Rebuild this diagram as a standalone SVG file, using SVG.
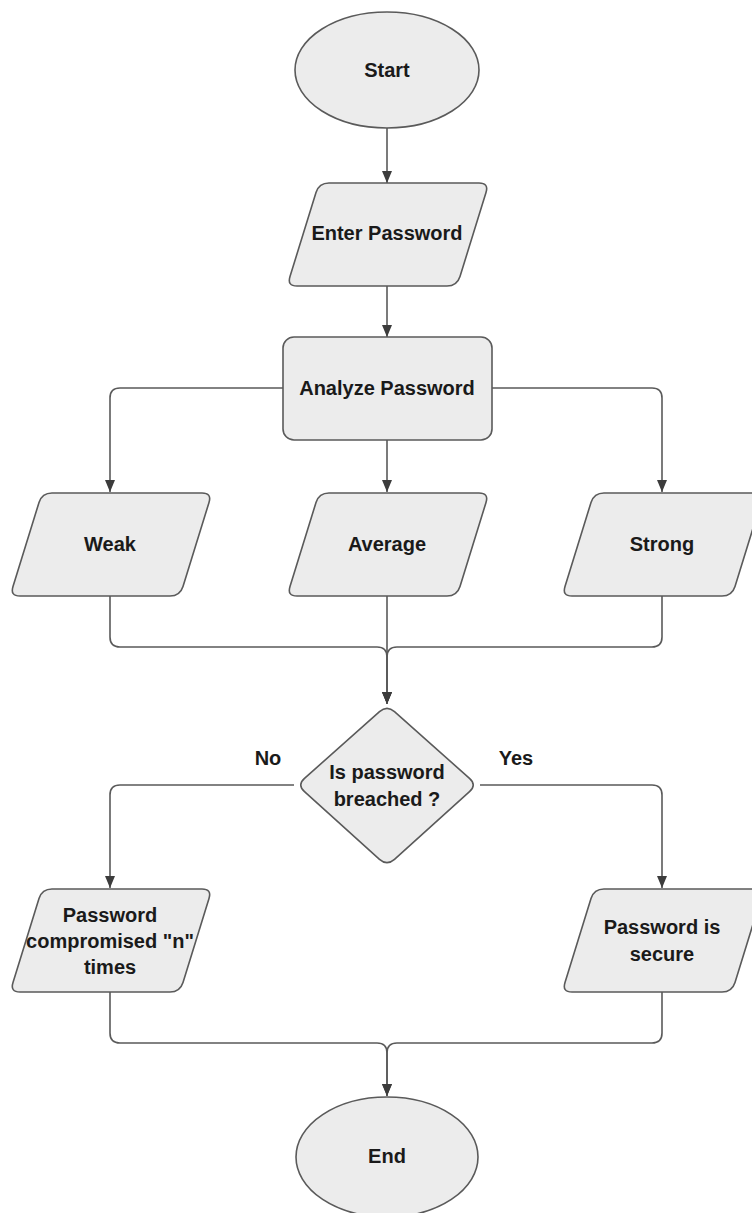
<svg xmlns="http://www.w3.org/2000/svg" xmlns:xlink="http://www.w3.org/1999/xlink" width="752" height="1213" viewBox="0 0 752 1213">
  <style>
    .shape { fill: #ececec; stroke: #5a5a5a; stroke-width: 1.6; }
    .edge { fill: none; stroke: #5a5a5a; stroke-width: 1.6; }
    .label { font-family: "Liberation Sans", Arial, sans-serif; font-weight: bold; font-size: 20px; fill: #1a1a1a; text-anchor: middle; }
  </style>
  <defs>
    <marker id="arrow" markerUnits="userSpaceOnUse" markerWidth="12" markerHeight="12" viewBox="0 0 12 12" refX="12" refY="6" orient="auto">
      <path d="M0,1 L12,6 L0,11 Z" fill="#3c3c3c"/>
    </marker>
    <!-- rounded parallelogram, origin at top-centre -->
    <path id="para" d="M -58,0 H 92 Q 102,0 99,9.5 L 73,93.5 Q 70,103 60,103 H -90 Q -100,103 -97,93.5 L -71,9.5 Q -68,0 -58,0 Z"/>
  </defs>

  <g id="connectors">
    <path class="edge" d="M387,128 V183" marker-end="url(#arrow)"/>
    <path class="edge" d="M387,286 V337" marker-end="url(#arrow)"/>
    <path class="edge" d="M283,388 H120 Q110,388 110,398 V492" marker-end="url(#arrow)"/>
    <path class="edge" d="M387,440 V492" marker-end="url(#arrow)"/>
    <path class="edge" d="M492,388 H652 Q662,388 662,398 V492" marker-end="url(#arrow)"/>
    <path class="edge" d="M110,596 V637 Q110,647 120,647 H377 Q387,647 387,657 V704" marker-end="url(#arrow)"/>
    <path class="edge" d="M387,596 V704" marker-end="url(#arrow)"/>
    <path class="edge" d="M662,596 V637 Q662,647 652,647 H397 Q387,647 387,657 V704" marker-end="url(#arrow)"/>
    <path class="edge" d="M294,785 H120 Q110,785 110,795 V888" marker-end="url(#arrow)"/>
    <path class="edge" d="M480,785 H652 Q662,785 662,795 V888" marker-end="url(#arrow)"/>
    <path class="edge" d="M110,992 V1033 Q110,1043 120,1043 H377 Q387,1043 387,1053 V1096" marker-end="url(#arrow)"/>
    <path class="edge" d="M662,992 V1033 Q662,1043 652,1043 H397 Q387,1043 387,1053 V1096" marker-end="url(#arrow)"/>
    <text class="label" x="268" y="765">No</text>
    <text class="label" x="516" y="765">Yes</text>
  </g>

  <g id="start">
    <ellipse class="shape" cx="387" cy="70" rx="92" ry="58"/>
    <text class="label" x="387" y="77">Start</text>
  </g>

  <g id="enter-password">
    <use xlink:href="#para" href="#para" class="shape" x="387" y="183"/>
    <text class="label" x="387" y="240">Enter Password</text>
  </g>

  <g id="analyze-password">
    <rect class="shape" x="283" y="337" width="209" height="103" rx="11" ry="11"/>
    <text class="label" x="387" y="395">Analyze Password</text>
  </g>

  <g id="weak">
    <use xlink:href="#para" href="#para" class="shape" x="110" y="493"/>
    <text class="label" x="110" y="551">Weak</text>
  </g>

  <g id="average">
    <use xlink:href="#para" href="#para" class="shape" x="387" y="493"/>
    <text class="label" x="387" y="551">Average</text>
  </g>

  <g id="strong">
    <use xlink:href="#para" href="#para" class="shape" x="662" y="493"/>
    <text class="label" x="662" y="551">Strong</text>
  </g>

  <g id="breached">
    <path class="shape" d="M379.5,711.6 Q387,705 394.5,711.6 L469.5,778.4 Q477,785 469.5,791.6 L394.5,859.4 Q387,866 379.5,859.4 L304.5,791.6 Q297,785 304.5,778.4 Z"/>
    <text class="label" x="387" y="779">Is password</text>
    <text class="label" x="387" y="806">breached ?</text>
  </g>

  <g id="compromised">
    <use xlink:href="#para" href="#para" class="shape" x="110" y="889"/>
    <text class="label" x="110" y="922">Password</text>
    <text class="label" x="110" y="948">compromised "n"</text>
    <text class="label" x="110" y="974">times</text>
  </g>

  <g id="secure">
    <use xlink:href="#para" href="#para" class="shape" x="662" y="889"/>
    <text class="label" x="662" y="934">Password is</text>
    <text class="label" x="662" y="961">secure</text>
  </g>

  <g id="end">
    <ellipse class="shape" cx="387" cy="1157" rx="91" ry="60"/>
    <text class="label" x="387" y="1163">End</text>
  </g>
</svg>
